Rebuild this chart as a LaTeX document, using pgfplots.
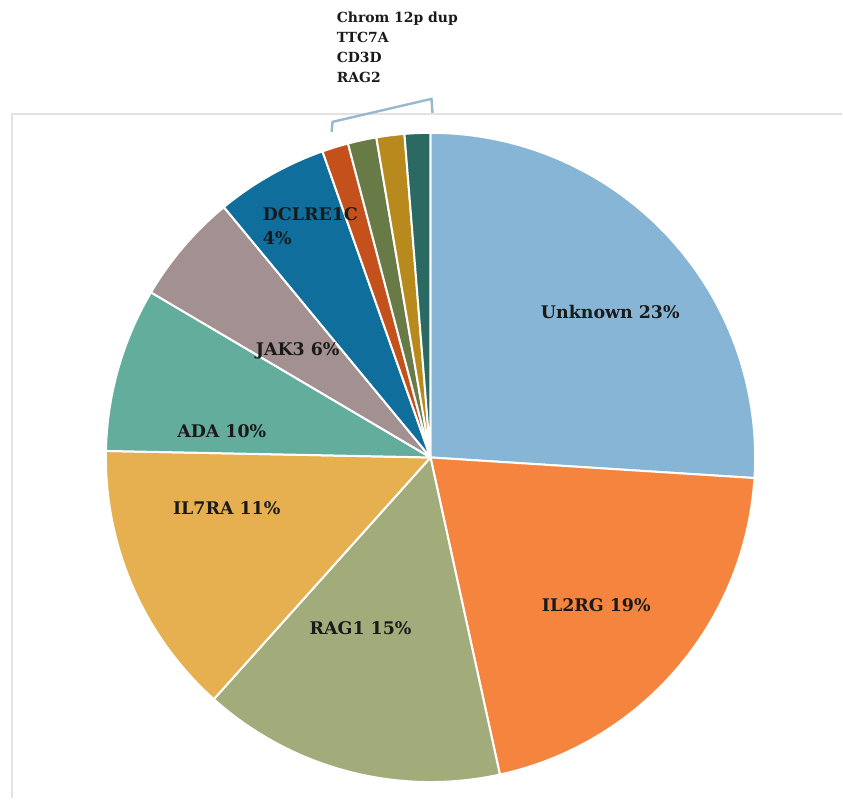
\documentclass[border=0pt]{standalone}
\usepackage{pgfplots}
\pgfplotsset{compat=1.18}
\usepackage{pgfplotstable}
\usepackage{fontspec}
\setmainfont{DejaVu Serif}
\definecolor{c0}{HTML}{86B5D5}
\definecolor{c1}{HTML}{F5843F}
\definecolor{c2}{HTML}{A2AC7B}
\definecolor{c3}{HTML}{E6B050}
\definecolor{c4}{HTML}{62AD9B}
\definecolor{c5}{HTML}{A29190}
\definecolor{c6}{HTML}{0F6E9B}
\definecolor{c7}{HTML}{C4501B}
\definecolor{c8}{HTML}{687A46}
\definecolor{c9}{HTML}{B8891C}
\definecolor{c10}{HTML}{2B6A63}
\definecolor{labc}{HTML}{1A1A1A}
\definecolor{brk}{HTML}{98B8CD}
\definecolor{frm}{HTML}{E2E2E2}
\pgfplotstableread{
label share
Unknown 26.01
IL2RG 20.56
RAG1 15.06
IL7RA 13.69
ADA 8.17
JAK3 5.53
DCLRE1C 5.58
ChromDup 1.31
TTC7A 1.42
CD3D 1.39
RAG2 1.28
}\pietable
\begin{document}
\begin{tikzpicture}
\begin{axis}[
  x=1bp, y=1bp, scale only axis,
  xmin=0, xmax=843, ymin=0, ymax=799,
  hide axis, clip=false,
]
\path (axis cs:0,0) rectangle (axis cs:843,799);
% frame
\draw[frm, line width=2bp] (axis cs:843,685) -- (axis cs:12,685) -- (axis cs:12,0);
% pie
\xdef\curang{90}
\pgfplotsinvokeforeach{0,...,10}{
  \pgfplotstablegetelem{#1}{share}\of\pietable
  \pgfmathsetmacro\nextang{\curang-3.6*\pgfplotsretval}
  \edef\tmp{\noexpand\fill[fill=c#1, draw=white, line width=2bp, line join=round]
    (axis cs:431,341) -- ++(\curang:325bp) arc[start angle=\curang, end angle=\nextang, radius=325bp] -- cycle;}
  \tmp
  \xdef\curang{\nextang}
}
% bracket
\draw[brk, line width=2.4bp] (axis cs:332,667) -- (axis cs:333,677) -- (axis cs:432,700) -- (axis cs:433,686);
% labels
\begin{scope}[every node/.style={font=\fontsize{17.5}{24}\selectfont\bfseries, text=labc, inner sep=0pt}]
\node at (axis cs:611,487) {Unknown 23\%};
\node at (axis cs:597,193) {IL2RG 19\%};
\node at (axis cs:361,170) {RAG1 15\%};
\node at (axis cs:227,290) {IL7RA 11\%};
\node at (axis cs:222,367) {ADA 10\%};
\node at (axis cs:298,448) {JAK3 6\%};
\node[anchor=north west, align=left] at (axis cs:263,591) {DCLRE1C\\4\%};
\end{scope}
\node[anchor=north west, align=left, inner sep=0pt, text=labc,
  font=\fontsize{14}{20}\selectfont\bfseries] at (axis cs:337,787) {Chrom 12p dup\\TTC7A\\CD3D\\RAG2};
\end{axis}
\end{tikzpicture}
\end{document}
